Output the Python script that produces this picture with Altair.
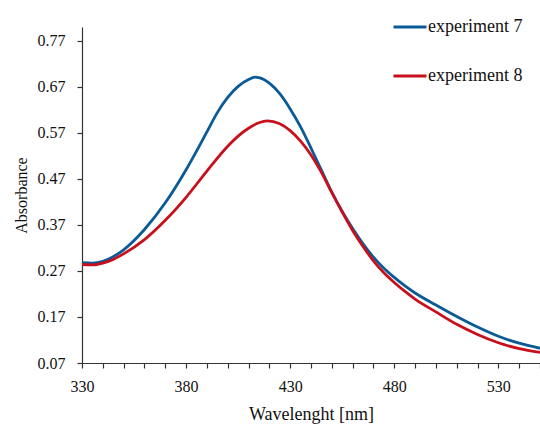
import altair as alt
import pandas as pd

# Experiment 7 (blue)
wl_7 = [330, 335, 340, 345, 350, 360, 370, 380, 390, 395, 400, 405, 410, 413, 415, 420, 425,
        430, 435, 440, 445, 450, 455, 460, 465, 470, 475, 480, 485, 490, 500, 510, 520, 530,
        540, 550]
abs_7 = [0.288, 0.287, 0.291, 0.301, 0.316, 0.360, 0.418, 0.490, 0.572, 0.614, 0.647, 0.671,
         0.686, 0.691, 0.690, 0.678, 0.655, 0.622, 0.583, 0.537, 0.489, 0.441, 0.399, 0.362,
         0.329, 0.300, 0.276, 0.256, 0.238, 0.222, 0.196, 0.171, 0.148, 0.128, 0.113, 0.102]

# Experiment 8 (red)
wl_8 = [330, 335, 340, 345, 350, 360, 370, 380, 390, 400, 405, 410, 415, 419, 425, 430, 435,
        440, 445, 450, 455, 460, 465, 470, 475, 480, 485, 490, 500, 510, 520, 530, 540, 550]
abs_8 = [0.284, 0.283, 0.287, 0.295, 0.307, 0.338, 0.380, 0.430, 0.487, 0.541, 0.563, 0.580,
         0.592, 0.596, 0.590, 0.575, 0.552, 0.522, 0.484, 0.440, 0.398, 0.358, 0.323, 0.292,
         0.266, 0.245, 0.226, 0.209, 0.181, 0.154, 0.132, 0.114, 0.101, 0.093]

series_names = ["experiment 7", "experiment 8"]
series_colors = ["#0b5a98", "#c8101c"]

x_ticks = list(range(330, 551, 10))
y_ticks = [0.07, 0.17, 0.27, 0.37, 0.47, 0.57, 0.67, 0.77]

df = pd.concat([
    pd.DataFrame({"wavelength": wl_7, "absorbance": abs_7, "series": series_names[0]}),
    pd.DataFrame({"wavelength": wl_8, "absorbance": abs_8, "series": series_names[1]}),
])

FONT = "Liberation Serif"

chart = alt.Chart(df).mark_line(interpolate="monotone", strokeWidth=2.8, clip=True).encode(
    x=alt.X("wavelength:Q",
            scale=alt.Scale(domain=[330, 550], nice=False, zero=False),
            axis=alt.Axis(values=x_ticks, title="Wavelenght [nm]",
                          labelExpr="(datum.value - 330) % 50 == 0 ? datum.label : ''",
                          grid=False, tickSize=5, labelPadding=10, titlePadding=11,
                          titleFontSize=18,
                          labelFlush=False, labelOverlap=False)),
    y=alt.Y("absorbance:Q",
            scale=alt.Scale(domain=[0.07, 0.80], nice=False, zero=False),
            axis=alt.Axis(values=y_ticks, format=".2f", title="Absorbance",
                          grid=False, tickSize=5, labelPadding=12, titlePadding=8)),
    color=alt.Color("series:N",
                    scale=alt.Scale(domain=series_names, range=series_colors),
                    legend=alt.Legend(title=None, orient="none", legendX=310, legendY=-18,
                                      symbolType="stroke", symbolSize=1089,
                                      symbolStrokeWidth=2.8, labelOffset=0,
                                      rowPadding=22, padding=0,
                                      labelFont=FONT, labelFontSize=18,
                                      labelColor="#111")),
).properties(
    width=458, height=336,
    autosize=alt.AutoSizeParams(type="none"),
    padding={"left": 82, "top": 27, "right": 0, "bottom": 61},
).configure_view(
    stroke=None
).configure_axis(
    labelFont=FONT, titleFont=FONT, labelFontSize=16, titleFontSize=16,
    titleFontWeight="normal", labelColor="#111", titleColor="#111",
    domainColor="#333", tickColor="#333", domainWidth=1.2, tickWidth=1.2,
)

chart.save("out.html", embed_options={"renderer": "svg", "actions": False})
